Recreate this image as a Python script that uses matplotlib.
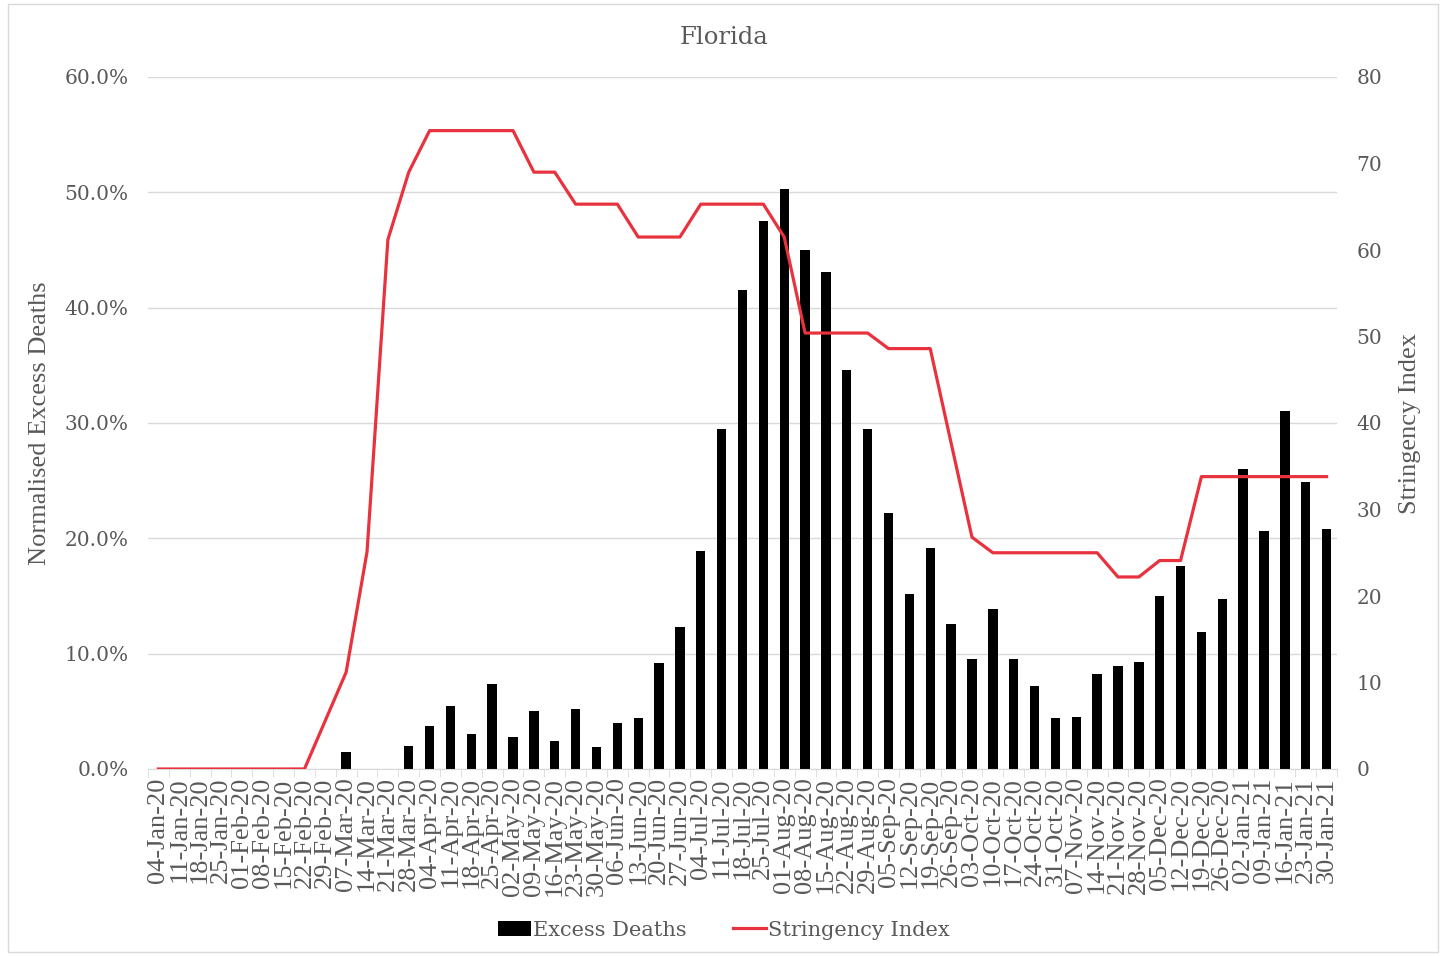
import matplotlib.pyplot as plt
from matplotlib.patches import Rectangle
from matplotlib.ticker import PercentFormatter, FixedLocator

weeks = ['04-Jan-20', '11-Jan-20', '18-Jan-20', '25-Jan-20', '01-Feb-20', '08-Feb-20',
         '15-Feb-20', '22-Feb-20', '29-Feb-20', '07-Mar-20', '14-Mar-20', '21-Mar-20',
         '28-Mar-20', '04-Apr-20', '11-Apr-20', '18-Apr-20', '25-Apr-20', '02-May-20',
         '09-May-20', '16-May-20', '23-May-20', '30-May-20', '06-Jun-20', '13-Jun-20',
         '20-Jun-20', '27-Jun-20', '04-Jul-20', '11-Jul-20', '18-Jul-20', '25-Jul-20',
         '01-Aug-20', '08-Aug-20', '15-Aug-20', '22-Aug-20', '29-Aug-20', '05-Sep-20',
         '12-Sep-20', '19-Sep-20', '26-Sep-20', '03-Oct-20', '10-Oct-20', '17-Oct-20',
         '24-Oct-20', '31-Oct-20', '07-Nov-20', '14-Nov-20', '21-Nov-20', '28-Nov-20',
         '05-Dec-20', '12-Dec-20', '19-Dec-20', '26-Dec-20', '02-Jan-21', '09-Jan-21',
         '16-Jan-21', '23-Jan-21', '30-Jan-21']

# normalised excess deaths, percent
excess = [0, 0, 0, 0, 0, 0, 0, 0, 0, 1.5, 0, 0, 2.0, 3.7, 5.5, 3.0, 7.4, 2.8, 5.0,
          2.4, 5.2, 1.9, 4.0, 4.4, 9.2, 12.3, 18.9, 29.5, 41.5, 47.5, 50.3, 45.0,
          43.1, 34.6, 29.5, 22.2, 15.2, 19.2, 12.6, 9.5, 13.9, 9.5, 7.2, 4.4, 4.5,
          8.2, 8.9, 9.3, 15.0, 17.6, 11.9, 14.7, 26.0, 20.6, 31.0, 24.9, 20.8]

stringency = [0, 0, 0, 0, 0, 0, 0, 0, 5.6, 11.2, 25.1, 61.2, 69.0, 73.8, 73.8, 73.8,
              73.8, 73.8, 69.0, 69.0, 65.3, 65.3, 65.3, 61.5, 61.5, 61.5, 65.3, 65.3,
              65.3, 65.3, 61.5, 50.4, 50.4, 50.4, 50.4, 48.6, 48.6, 48.6, 37.7, 26.8,
              25.0, 25.0, 25.0, 25.0, 25.0, 25.0, 22.2, 22.2, 24.1, 24.1, 33.8, 33.8,
              33.8, 33.8, 33.8, 33.8, 33.8]

grey = '#595959'
red = '#e8323e'

fig = plt.figure(figsize=(14.48, 9.56), dpi=100)
ax = fig.add_axes([148 / 1448, 1 - 769 / 956, (1337 - 148) / 1448, (769 - 77) / 956])

x = list(range(len(weeks)))
bars = ax.bar(x, [v / 100 for v in excess], width=0.45, color='black', label='Excess Deaths', zorder=2)
ax.set_xlim(-0.5, len(weeks) - 0.5)
ax.set_ylim(0, 0.6)
ax.set_yticks([0, 0.1, 0.2, 0.3, 0.4, 0.5, 0.6])
ax.yaxis.set_major_formatter(PercentFormatter(1.0, decimals=1))
ax.grid(axis='y', color='#d9d9d9', linewidth=1)
ax.set_axisbelow(True)
for s in ['top', 'left', 'right']:
    ax.spines[s].set_visible(False)
ax.spines['bottom'].set_color('#d9d9d9')

ax.set_xticks(x)
ax.set_xticklabels(weeks, rotation=90, family='Liberation Serif', fontsize=19, color=grey)
ax.tick_params(axis='x', length=0, pad=6)
ax.xaxis.set_minor_locator(FixedLocator([i - 0.5 for i in range(len(weeks) + 1)]))
ax.tick_params(axis='x', which='minor', length=6, color='#d9d9d9')
ax.tick_params(axis='y', length=0, pad=14, labelsize=14.5, labelcolor=grey)
for t in ax.get_yticklabels():
    t.set_family('DejaVu Serif')
ax.set_ylabel('Normalised Excess Deaths', family='Liberation Serif', fontsize=19, color=grey, labelpad=10)

ax2 = ax.twinx()
line, = ax2.plot(x, stringency, color=red, linewidth=2.3, label='Stringency Index', zorder=3)
ax2.set_ylim(0, 80)
ax2.set_yticks(range(0, 81, 10))
ax2.tick_params(axis='y', length=0, pad=14, labelsize=14.5, labelcolor=grey)
for t in ax2.get_yticklabels():
    t.set_family('DejaVu Serif')
for s in ax2.spines.values():
    s.set_visible(False)
ax2.set_ylabel('Stringency Index', family='Liberation Serif', fontsize=19, color=grey, labelpad=12)

fig.text(0.5, 1 - 37 / 956, 'Florida', ha='center', va='center', family='DejaVu Serif',
         fontsize=17.5, color=grey)

leg = fig.legend([bars, line], ['Excess Deaths', 'Stringency Index'], loc='center',
                 bbox_to_anchor=(0.5, 1 - 930 / 956), ncol=2, frameon=False,
                 prop={'family': 'DejaVu Serif', 'size': 15}, handlelength=1.6,
                 handletextpad=0.1, columnspacing=2.2)
for t in leg.get_texts():
    t.set_color(grey)

fig.patches.append(Rectangle((8 / 1448, 4 / 956), 1430 / 1448, 948 / 956, transform=fig.transFigure,
                             fill=False, edgecolor='#d9d9d9', linewidth=1))

plt.savefig('out.png', dpi=100)
